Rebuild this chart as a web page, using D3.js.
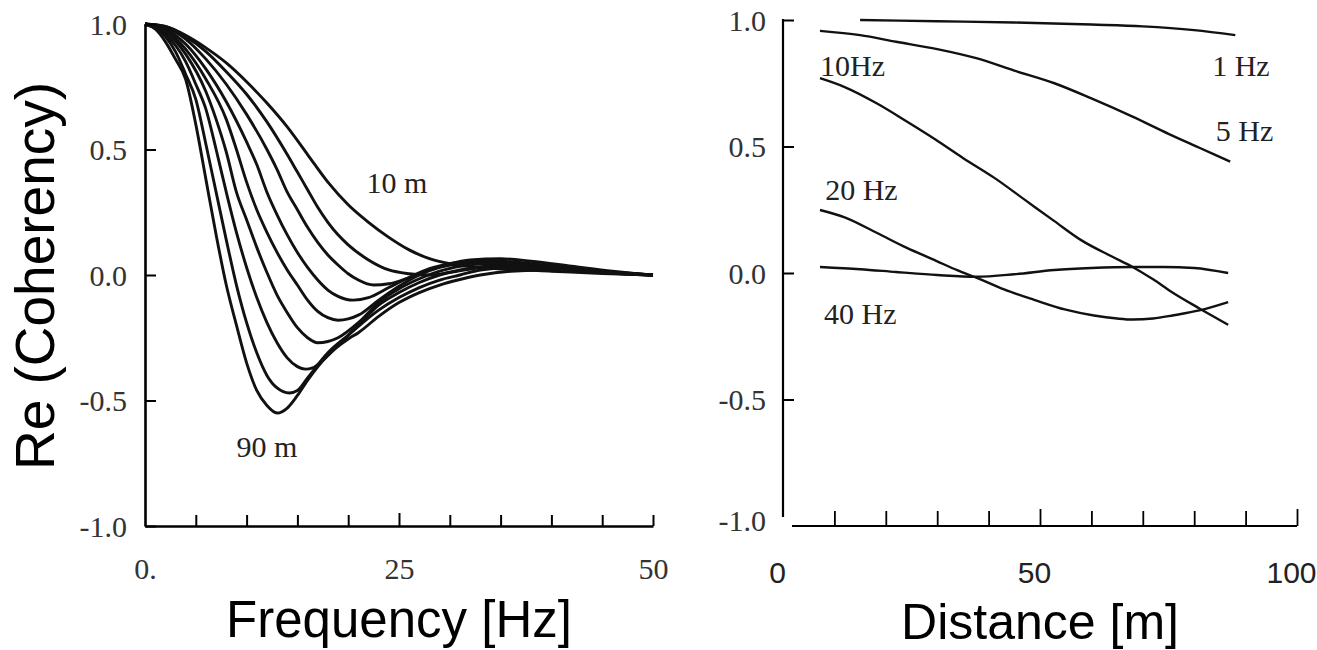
<!DOCTYPE html>
<html>
<head>
<meta charset="utf-8">
<script src="https://cdn.jsdelivr.net/npm/d3@7/dist/d3.min.js"></script>
<style>
  html, body { margin: 0; padding: 0; background: #fff; }
  svg { display: block; }
  .serif { font-family: 'Liberation Serif', 'Times New Roman', serif; }
  .sans { font-family: 'Liberation Sans', Arial, sans-serif; }
</style>
</head>
<body>
<div id="chart"></div>
<script>
// ---- data: left panel, Re(coherency) vs frequency [Hz] for distances 10..90 m
const freqCurve10m = [[0,1],[2,0.99],[4,0.955],[6,0.905],[8,0.845],[10,0.77],[12,0.685],[14,0.59],[16,0.48],[18,0.37],[20,0.28],[22,0.21],[24,0.15],[26,0.1],[28,0.065],[30,0.045],[33,0.03],[36,0.022],[40,0.015],[45,0.006],[50,0]];
const freqCurve20m = [[0,1],[2,0.99],[4,0.95],[6,0.89],[8,0.81],[10,0.72],[12,0.61],[14,0.48],[15,0.41],[16,0.34],[17,0.27],[18,0.21],[19,0.16],[20,0.12],[22,0.06],[24,0.02],[26,0.005],[28,0.0],[30,0.01],[33,0.03],[36,0.04],[40,0.035],[45,0.015],[50,0]];
const freqCurve30m = [[0,1],[2,0.985],[4,0.94],[6,0.86],[8,0.76],[10,0.64],[12,0.5],[13,0.42],[14,0.33],[15,0.26],[16,0.19],[17,0.13],[18,0.08],[19,0.04],[20,0.005],[21,-0.02],[22.5,-0.04],[24,-0.035],[26,-0.01],[28,0.02],[30,0.045],[32,0.06],[35,0.065],[38,0.055],[42,0.035],[46,0.015],[50,0]];
const freqCurve40m = [[0,1],[2,0.98],[4,0.92],[6,0.82],[8,0.69],[10,0.53],[11,0.44],[12,0.33],[13,0.24],[14,0.16],[15,0.09],[16,0.03],[17,-0.02],[18,-0.06],[19,-0.085],[20.5,-0.1],[22,-0.09],[24,-0.05],[26,-0.01],[28,0.025],[30,0.045],[32,0.055],[35,0.055],[38,0.045],[42,0.028],[46,0.012],[50,0]];
const freqCurve50m = [[0,1],[2,0.975],[4,0.9],[6,0.78],[8,0.62],[9,0.5],[10,0.37],[11,0.26],[12,0.17],[13,0.09],[14,0.02],[15,-0.04],[16,-0.1],[17,-0.145],[18,-0.17],[19,-0.18],[20,-0.175],[21,-0.16],[23,-0.1],[25,-0.045],[27,0.0],[29,0.03],[31,0.045],[34,0.05],[37,0.045],[41,0.028],[45,0.012],[50,0]];
const freqCurve60m = [[0,1],[2,0.97],[4,0.88],[6,0.73],[7,0.62],[8,0.49],[9,0.33],[10,0.22],[11,0.11],[12,0.01],[13,-0.08],[14,-0.15],[15,-0.21],[16,-0.25],[17,-0.27],[18,-0.265],[19,-0.25],[21,-0.19],[23,-0.11],[25,-0.055],[27,-0.015],[29,0.015],[31,0.035],[34,0.045],[37,0.04],[41,0.025],[45,0.01],[50,0]];
const freqCurve70m = [[0,1],[2,0.96],[4,0.85],[5,0.76],[6,0.66],[7,0.5],[8,0.33],[9,0.17],[10,0.03],[11,-0.09],[12,-0.19],[13,-0.27],[14,-0.33],[15,-0.365],[15.8,-0.375],[16.5,-0.37],[17.5,-0.34],[19,-0.28],[21,-0.2],[23,-0.12],[25,-0.07],[27,-0.03],[29,0.0],[31,0.02],[34,0.035],[37,0.035],[41,0.025],[45,0.01],[50,0]];
const freqCurve80m = [[0,1],[1,0.985],[2,0.95],[3,0.89],[4,0.8],[5,0.7],[6,0.52],[7,0.33],[8,0.14],[9,-0.04],[10,-0.19],[11,-0.31],[12,-0.4],[13,-0.45],[14.2,-0.47],[15,-0.46],[16,-0.41],[18,-0.31],[20,-0.24],[23,-0.14],[25,-0.09],[27,-0.05],[29,-0.02],[31,0.0],[33,0.02],[36,0.03],[40,0.025],[45,0.01],[50,0]];
const freqCurve90m = [[0,1],[1,0.98],[2,0.93],[3,0.86],[4,0.78],[5,0.6],[6,0.38],[7,0.16],[8,-0.04],[9,-0.2],[10,-0.35],[11,-0.46],[12,-0.52],[13,-0.55],[14,-0.53],[15,-0.48],[16,-0.42],[18,-0.32],[20,-0.255],[21,-0.23],[23,-0.165],[25,-0.11],[27,-0.07],[29,-0.04],[31,-0.018],[33,0.0],[36,0.015],[40,0.02],[45,0.01],[50,0]];
const freqCurves = [freqCurve10m, freqCurve20m, freqCurve30m, freqCurve40m, freqCurve50m,
  freqCurve60m, freqCurve70m, freqCurve80m, freqCurve90m];
const freqLabels = [{ text: '10 m', f: 21.8, v: 0.325 }, { text: '90 m', f: 9.0, v: -0.725 }];

// ---- data: right panel, Re(coherency) vs distance [m] for 1..40 Hz
const distCurve1Hz = [[15,1.0],[30,0.995],[45,0.99],[60,0.982],[70,0.975],[80,0.96],[88,0.94]];
const distCurve5Hz = [[7.2,0.957],[15,0.94],[22,0.914],[30,0.885],[37.6,0.849],[45,0.8],[52.8,0.75],[60,0.69],[68,0.618],[75,0.55],[81,0.495],[87,0.44]];
const distCurve10Hz = [[7.2,0.77],[12,0.735],[18.3,0.67],[24,0.6],[29.8,0.526],[35,0.455],[41.2,0.375],[47,0.29],[52.8,0.205],[58,0.13],[64,0.065],[68,0.024],[72,-0.025],[76,-0.08],[81,-0.14],[86.6,-0.205]];
const distCurve20Hz = [[7.2,0.249],[12,0.22],[18.3,0.158],[24,0.1],[29.8,0.048],[34,0.01],[37.6,-0.018],[43,-0.065],[49,-0.107],[55,-0.145],[60.5,-0.168],[65,-0.18],[68,-0.184],[72,-0.18],[76,-0.167],[81,-0.148],[86.6,-0.115]];
const distCurve40Hz = [[7.2,0.024],[15,0.015],[22,0.004],[30,-0.008],[37.6,-0.015],[45,-0.005],[52.8,0.012],[60,0.02],[68,0.024],[74,0.024],[80,0.02],[86.6,0.0]];
const distCurves = [distCurve1Hz, distCurve5Hz, distCurve10Hz, distCurve20Hz, distCurve40Hz];
const distLabels = [
  { text: '10Hz', d: 7.2, v: 0.78 }, { text: '1 Hz', d: 83.5, v: 0.78 },
  { text: '5 Hz', d: 84.2, v: 0.52 }, { text: '20 Hz', d: 8.2, v: 0.29 },
  { text: '40 Hz', d: 8.0, v: -0.2 }
];

// ---- tick labels
const yTickValues = [1.0, 0.5, 0.0, -0.5, -1.0];
const yTickLabels = ['1.0', '0.5', '0.0', '-0.5', '-1.0'];
const freqTickValues = [0, 5, 10, 15, 20, 25, 30, 35, 40, 45, 50];
const freqTickLabels = { 0: '0.', 25: '25', 50: '50' };
const distTickValues = [0, 10, 20, 30, 40, 50, 60, 70, 80, 90, 100];
const distTickLabels = { 0: '0', 50: '50', 100: '100' };

const W = 1317;
const H = 650;

const svg = d3.select('#chart').append('svg')
  .attr('width', W)
  .attr('height', H);

svg.append('rect').attr('width', W).attr('height', H).attr('fill', '#fff');

// Scales
const xL = d3.scaleLinear().domain([0, 50]).range([145, 653]);
const yL = d3.scaleLinear().domain([-1, 1]).range([526, 24]);
const xR = d3.scaleLinear().domain([0, 100]).range([783, 1297]);
const yR = d3.scaleLinear().domain([-1, 1]).range([526, 20]);

const yLabel = (d) => yTickLabels[yTickValues.indexOf(d)];

// ---------- left panel ----------
const left = svg.append('g').attr('class', 'left');

const lineL = d3.line()
  .x((d) => xL(d[0]))
  .y((d) => yL(d[1]))
  .curve(d3.curveMonotoneX);

left.selectAll('path.curve')
  .data(freqCurves)
  .enter().append('path')
  .attr('class', 'curve')
  .attr('d', lineL)
  .attr('fill', 'none')
  .attr('stroke', '#111')
  .attr('stroke-width', 2.9);

const yAxisL = d3.axisLeft(yL)
  .tickValues(yTickValues)
  .tickFormat(yLabel)
  .tickSizeInner(-11)
  .tickSizeOuter(0)
  .tickPadding(18);

const gyL = left.append('g')
  .attr('transform', `translate(${xL(0)},0)`)
  .call(yAxisL);

const xAxisL = d3.axisBottom(xL)
  .tickValues(freqTickValues)
  .tickFormat((d) => freqTickLabels[d] || '')
  .tickSizeInner(-11)
  .tickSizeOuter(0)
  .tickPadding(32);

const gxL = left.append('g')
  .attr('transform', `translate(0,${yL(-1)})`)
  .call(xAxisL);
gxL.selectAll('.tick line').filter((d) => d === 25).attr('y2', -13);
gxL.selectAll('.tick line').filter((d) => d === 0).remove();

[gyL, gxL].forEach((g) => {
  g.select('.domain').attr('stroke', '#000').attr('stroke-width', 2.6);
  g.selectAll('.tick line').attr('stroke', '#000').attr('stroke-width', 2);
  g.selectAll('.tick text')
    .attr('class', 'serif')
    .attr('font-size', 30)
    .attr('fill', '#333');
});
gyL.selectAll('.tick text').attr('dy', '0.34em');

left.selectAll('text.clabel')
  .data(freqLabels)
  .enter().append('text')
  .attr('class', 'clabel serif')
  .attr('x', (d) => xL(d.f))
  .attr('y', (d) => yL(d.v))
  .attr('font-size', 30)
  .attr('fill', '#222')
  .text((d) => d.text);

svg.append('text')
  .attr('class', 'sans')
  .attr('transform', 'translate(54,276) rotate(-90)')
  .attr('text-anchor', 'middle')
  .attr('font-size', 55)
  .attr('fill', '#000')
  .text('Re (Coherency)');

svg.append('text')
  .attr('class', 'sans')
  .attr('x', (xL(0) + xL(50)) / 2)
  .attr('y', 637)
  .attr('text-anchor', 'middle')
  .attr('font-size', 51)
  .attr('fill', '#000')
  .text('Frequency [Hz]');

// ---------- right panel ----------
const right = svg.append('g').attr('class', 'right');

const lineR = d3.line()
  .x((d) => xR(d[0]))
  .y((d) => yR(d[1]))
  .curve(d3.curveMonotoneX);

right.selectAll('path.curve')
  .data(distCurves)
  .enter().append('path')
  .attr('class', 'curve')
  .attr('d', lineR)
  .attr('fill', 'none')
  .attr('stroke', '#111')
  .attr('stroke-width', 2.4);

const yAxisR = d3.axisLeft(yR)
  .tickValues(yTickValues)
  .tickFormat(yLabel)
  .tickSizeInner(-11)
  .tickSizeOuter(0)
  .tickPadding(17);

const gyR = right.append('g')
  .attr('transform', `translate(${xR(0)},0)`)
  .call(yAxisR);
gyR.select('.domain').remove();
gyR.selectAll('.tick line').filter((d) => d === -1).remove();
right.append('line')
  .attr('x1', xR(0)).attr('x2', xR(0))
  .attr('y1', yR(1) - 1).attr('y2', yR(-1) - 9)
  .attr('stroke', '#000')
  .attr('stroke-width', 2.2);

const xAxisR = d3.axisBottom(xR)
  .tickValues(distTickValues)
  .tickFormat((d) => distTickLabels[d] || '')
  .tickSizeInner(-15)
  .tickSizeOuter(0)
  .tickPadding(36);

const gxR = right.append('g')
  .attr('transform', `translate(0,${yR(-1)})`)
  .call(xAxisR);
gxR.select('.domain').remove();
gxR.selectAll('.tick line').filter((d) => d === 0).remove();
gxR.selectAll('.tick line').filter((d) => d === 50 || d === 100).attr('y2', -17);
right.append('line')
  .attr('x1', xR(0) + 9).attr('x2', xR(100))
  .attr('y1', yR(-1)).attr('y2', yR(-1))
  .attr('stroke', '#000')
  .attr('stroke-width', 2.2);

gyR.selectAll('.tick line').attr('stroke', '#000').attr('stroke-width', 2);
gyR.selectAll('.tick text')
  .attr('class', 'serif')
  .attr('font-size', 30)
  .attr('fill', '#333')
  .attr('dy', (d) => (d === -1 ? '0.15em' : '0.34em'));
gxR.selectAll('.tick line').attr('stroke', '#000').attr('stroke-width', 1.8);
gxR.selectAll('.tick text')
  .attr('class', 'sans')
  .attr('font-size', 30)
  .attr('fill', '#222')
  .attr('dx', -6);

right.selectAll('text.clabel')
  .data(distLabels)
  .enter().append('text')
  .attr('class', 'clabel serif')
  .attr('x', (d) => xR(d.d))
  .attr('y', (d) => yR(d.v))
  .attr('font-size', 30)
  .attr('fill', '#222')
  .text((d) => d.text);

svg.append('text')
  .attr('class', 'sans')
  .attr('x', (xR(0) + xR(100)) / 2)
  .attr('y', 639)
  .attr('text-anchor', 'middle')
  .attr('font-size', 50)
  .attr('fill', '#000')
  .text('Distance [m]');
</script>
</body>
</html>
